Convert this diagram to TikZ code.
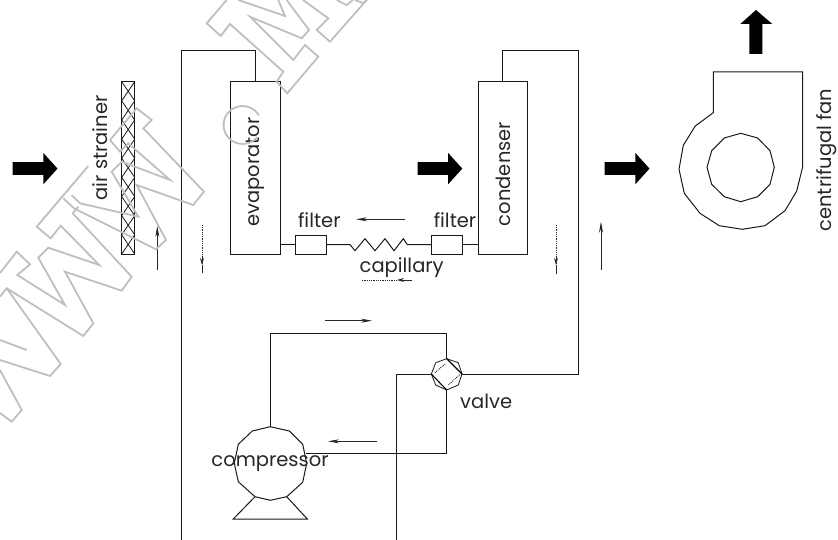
\documentclass[tikz,border=0pt]{standalone}
\usepackage{fontspec}
\setmainfont{Poppins}
\usetikzlibrary{arrows.meta}
\tikzset{
  pipe/.style={line width=1pt,black!90,line join=miter},
  boxn/.style={draw=black!90,line width=1pt,inner sep=0pt},
  lbl/.style={font=\fontsize{19.5}{22}\selectfont,inner sep=0pt,text=black!85},
  vlbl/.style={lbl,rotate=90},
  flow/.style={line width=0.8pt,black!85,-{Stealth[length=11pt,width=4pt]}},
  dflow/.style={line width=0.8pt,black!85,densely dotted},
  bigarrow/.style={fill=black,draw=none},
  wm/.style={draw=black!25,line width=1.8pt,line join=miter}
}
\newcommand{\rightarrowshape}[2]{\fill[bigarrow] (#1,#2-6.5) -- ++(30.6,0) -- ++(0,-9.3) -- ++(14.2,15.7) -- ++(-14.2,15.7) -- ++(0,-9.3) -- ++(-30.6,0) -- cycle;}
\begin{document}
\begin{tikzpicture}[x=1pt,y=-1pt]
\useasboundingbox (0,0) rectangle (838,540);
% main boxes
\node[boxn,minimum width=13pt,minimum height=172.3pt] (strainer) at (128.2,167.85) {};
\node[boxn,minimum width=50pt,minimum height=172.3pt] (evap) at (255.7,167.85) {};
\node[boxn,minimum width=49.3pt,minimum height=172.3pt] (cond) at (502.65,167.85) {};
\node[boxn,minimum width=31pt,minimum height=18.7pt] (f1) at (311.2,244.65) {};
\node[boxn,minimum width=30.6pt,minimum height=18.7pt] (f2) at (447,244.65) {};
% strainer mesh
\foreach \i in {0,...,8}{
  \draw[line width=.8pt,black!90] (121.7,81.7+\i*19.14) -- (134.7,81.7+\i*19.14+19.14);
  \draw[line width=.8pt,black!90] (134.7,81.7+\i*19.14) -- (121.7,81.7+\i*19.14+19.14);
}
% coordinates
\coordinate (tl) at (181.5,51);
\coordinate (bl) at (181.5,540);
\coordinate (tm) at (255.7,51);
\coordinate (vC) at (446.7,374);
\coordinate (vT) at (446.7,358.7);
\coordinate (vB) at (446.7,390);
\coordinate (vL) at (431.3,374);
\coordinate (vR) at (462,374);
\coordinate (cT) at (270.3,426.7);
\coordinate (cR) at (306,453.3);
\coordinate (zl) at (350,244.65);
\coordinate (zr) at (407.3,244.65);
% pipes
\draw[pipe] (bl) -- (tl) -- (tm) -- (evap.north);
\draw[pipe] (cond.north) |- (578,51) |- (vR);
\draw[pipe] (vL) -| (396,540);
\draw[pipe] (vB) |- (cR);
\draw[pipe] (vT) |- (270.3,333.7) -- (cT);
\draw[pipe] (evap.east |- f1) -- (f1.west);
\draw[pipe] (f1.east) -- (zl) -- (355,250.7) -- (365,238.7) -- (375,250.7) -- (385,238.7) -- (394,250.7) -- (403.3,238.7) -- (zr) -- (f2.west);
\draw[pipe] (f2.east) -- (cond.west |- f2);
% compressor
\draw[pipe,line join=round] (270.3,426.7) -- (289.3,431) -- (302.7,444.3) -- (306.7,463.3) -- (302.7,482.3) -- (286.7,496.7) -- (270.3,500.3) -- (255,496.7) -- (238.3,481.7) -- (234.3,463.3) -- (238.3,444.3) -- (252.3,431) -- cycle;
\draw[pipe] (255,496.7) -- (233.3,519) -- (307.3,519) -- (286.7,496.7);
% valve
\draw[pipe,line width=.8pt] (446.7,358.7) -- (458.3,362.7) -- (462,374) -- (458.3,385) -- (446.7,390) -- (435.7,385) -- (431.3,374) -- (435.7,362.7) -- cycle;
\draw[line width=1.1pt,black] (vT) -- (vR);
\draw[line width=1.1pt,black] (vL) -- (vB);
\draw[line width=.8pt,densely dotted,black] (435,372.7) -- (445,364);
\draw[line width=.8pt,densely dotted,black] (448.3,385) -- (460,374.3);
% fan
\draw[pipe] (713.3,112.7) -- (713.3,72) -- (802.7,72) -- (802.7,166.7) -- (796.7,191) -- (785,210.7) -- (765,225.7) -- (742.3,229.3) -- (719.3,225.7) -- (700,213.3) -- (684.3,193.3) -- (679,169.3) -- (683.3,145.3) -- (695.3,126) -- cycle;
\draw[pipe] (740.7,133.3) -- (757.7,138) -- (770,150.7) -- (774.3,167.3) -- (770,184.3) -- (757.7,196.7) -- (740.7,201.7) -- (724.3,196.7) -- (711.7,184.3) -- (707,167.3) -- (711.7,150.7) -- (724.3,138) -- cycle;
% big arrows
\rightarrowshape{12.7}{168.7}
\rightarrowshape{417.5}{168.7}
\rightarrowshape{604.7}{168.7}
\fill[bigarrow] (756,10) -- (772.3,24) -- (762.3,24) -- (762.3,54) -- (749.3,54) -- (749.3,24) -- (740.3,24) -- cycle;
% flow arrows
\coordinate (a1s) at (157.3,270); \coordinate (a1e) at (157.3,226);
\draw[flow] (a1s) -- (a1e);
\coordinate (a2s) at (601,270); \coordinate (a2e) at (601,221.7);
\draw[flow] (a2s) -- (a2e);
\coordinate (a3s) at (405,219.3); \coordinate (a3e) at (356,219.3);
\draw[flow] (a3s) -- (a3e);
\coordinate (a4s) at (325,320.7); \coordinate (a4e) at (372,320.7);
\draw[flow] (a4s) -- (a4e);
\coordinate (a5s) at (377,441.3); \coordinate (a5e) at (328,441.3);
\draw[flow] (a5s) -- (a5e);
% dotted flow arrows
\coordinate (d1s) at (202,225); \coordinate (d1m) at (202,265); \coordinate (d1e) at (202,273);
\draw[dflow] (d1s) -- (d1m);
\draw[line width=.8pt,black!85,-{Stealth[length=7pt,width=4pt]}] (202,258) -- (d1m);
\draw[line width=.8pt,black!85] (d1m) -- (d1e);
\coordinate (d2s) at (556,225); \coordinate (d2m) at (556,265); \coordinate (d2e) at (556,274);
\draw[dflow] (d2s) -- (d2m);
\draw[line width=.8pt,black!85,-{Stealth[length=7pt,width=4pt]}] (556,258) -- (d2m);
\draw[line width=.8pt,black!85] (d2m) -- (d2e);
\coordinate (d3s) at (361.7,280); \coordinate (d3m) at (397,280); \coordinate (d3e) at (411.7,280);
\draw[dflow] (d3s) -- (d3m);
\draw[line width=.8pt,black!85,-{Stealth[length=7pt,width=4pt]}] (404,280) -- (d3m);
\draw[line width=.8pt,black!85] (404,280) -- (d3e);
% labels
\node[vlbl] (lstrainer) at (100,148) {air strainer};
\node[vlbl] (levap) at (255.7,172) {evaporator};
\node[vlbl] (lcond) at (503,174) {condenser};
\node[vlbl] (lfan) at (826.5,160) {centrifugal fan};
\node[lbl] (lf1) at (319.3,220) {filter};
\node[lbl] (lf2) at (455,220) {filter};
\node[lbl] (lcap) at (401.7,268) {capillary};
\node[lbl] (lcomp) at (270,464) {compressor};
\node[lbl,anchor=west] (lvalve) at (460,401.7) {valve};
% watermark
\begin{scope}[every path/.style={wm}]
\draw (226.7,0) -- (206.7,23.3) -- (220.7,36) -- (230,24) -- (283.3,71.7) -- (276.7,81.7) -- (287.3,93.3) -- (318.3,56.7) -- (305,45) -- (293.3,60) -- (250,16.7) -- (301.7,38.3) -- (309,30) -- (286.7,0);
\draw (238.3,0) -- (285,16) -- (278.3,0);
\draw (303,0) -- (328.3,18.3) -- (316.7,30) -- (330,41.7) -- (366.7,0);
\draw (336.7,0) -- (346.7,5) -- (353,0);
\draw (355,0) -- (363,3) -- (367,0);
\draw (259,115.5) arc[start angle=-30,end angle=-320,radius=19];
\draw (110,140) -- (136.7,108.3) -- (151.7,120) -- (143.3,128.3) -- (204,191.7) -- (193.3,205) -- (136.7,185) -- (166,240) -- (156,249.3) -- (74,208.3);
\draw (110,140) -- (120,151.7) -- (128.3,143.3) -- (170,180) -- (121.7,161.7) -- (111.7,171.7) -- (138.3,216.7) -- (80,203.3);
\draw (88.3,166) -- (36.7,226.7) -- (50.7,238.3) -- (60.7,225.7) -- (99.3,265) -- (48.3,247.7) -- (38.3,257.7) -- (65,305) -- (17.3,275) -- (30,264.3) -- (16.7,251.7) -- (0,273);
\draw (63.3,198.3) -- (74,208.3);
\draw (71.7,195) -- (80,203.3);
\draw (78.3,206.7) -- (72.7,213.3) -- (131.7,276.7) -- (121.7,290.7) -- (65,271.7) -- (93.3,323.3) -- (83.3,336) -- (6.7,288.3) -- (0,296.7);
\draw (6.7,288.3) -- (60.7,364) -- (50,376) -- (0,360);
\draw (0,340) -- (26.7,350);
\draw (0,370) -- (21.7,410) -- (11.7,421.7) -- (0,413);
\end{scope}
\end{tikzpicture}
\end{document}
